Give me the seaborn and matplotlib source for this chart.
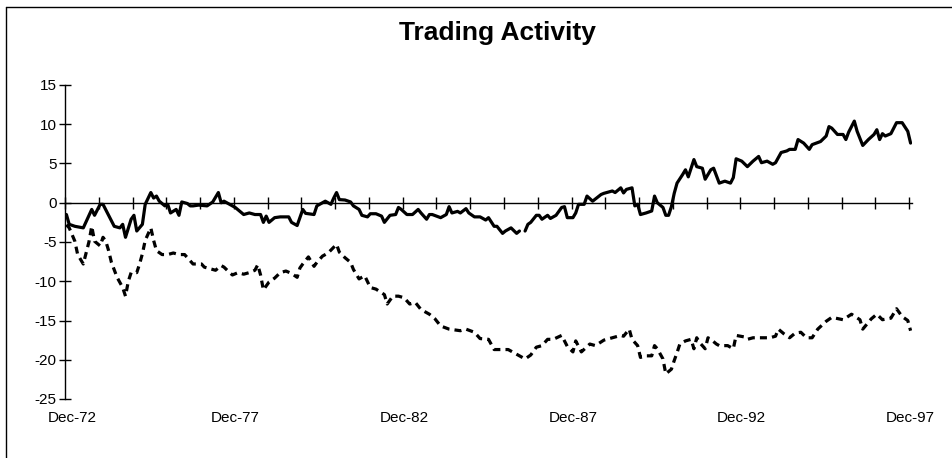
import numpy as np
import pandas as pd
import matplotlib
matplotlib.use("Agg")
import matplotlib.pyplot as plt
from matplotlib.lines import Line2D
import seaborn as sns

# month index: 0 = Dec-72 ... 300 = Dec-97 (values read at the turning points)
solid_month = [0, 1, 3, 6, 9, 10, 12, 13, 15, 17, 19, 20, 21, 23, 24, 25, 27, 28, 30, 31,
               32, 33, 35, 36, 37, 39, 40, 41, 43, 44, 45, 47, 50, 52, 54, 55, 56, 58, 60, 63,
               65, 67, 69, 70, 71, 72, 74, 76, 79, 80, 82, 84, 85, 88, 89, 92, 94, 95, 96, 97,
               99, 101, 102, 104, 105, 107, 108, 110, 112, 113, 115, 117, 118, 119, 121, 123, 125, 126, 128, 129,
               130, 133, 135, 136, 137, 139, 140, 142, 143, 145, 147, 149, 150, 152, 153, 155, 156, 158, 160, 161,
               163, 164, 165, 167, 168, 169, 171, 172, 174, 176, 177, 178, 180, 181, 182, 184, 185, 187, 190, 191,
               194, 195, 197, 198, 199, 201, 202, 203, 204, 206, 208, 209, 210, 212, 213, 214, 215, 216, 217, 219,
               220, 221, 223, 224, 226, 227, 229, 230, 232, 234, 236, 237, 238, 240, 242, 244, 246, 247, 249, 251,
               252, 254, 256, 257, 259, 260, 262, 264, 265, 268, 270, 271, 272, 274, 276, 277, 278, 280, 281, 283,
               285, 287, 288, 289, 290, 291, 293, 295, 297, 299, 300]
solid_value = [-1.5, -2.75, -3.0, -3.2, -0.85, -1.6, -0.2, -0.2, -1.6, -3.0, -3.2, -2.75, -4.4, -2.1, -1.6, -3.6, -2.75, -0.2, 1.3, 0.6,
               0.85, 0.2, -0.4, -0.2, -1.3, -0.85, -1.6, 0.1, -0.1, -0.4, -0.4, -0.3, -0.4, 0.1, 1.3, 0.0, 0.2, -0.2, -0.6, -1.5,
               -1.3, -1.5, -1.5, -2.5, -1.7, -2.5, -1.9, -1.8, -1.8, -2.5, -2.9, -0.85, -1.35, -1.5, -0.4, 0.2, -0.2, 0.6, 1.3, 0.4,
               0.35, 0.1, -0.4, -0.85, -1.6, -1.8, -1.4, -1.4, -1.7, -2.5, -1.6, -1.5, -0.6, -0.85, -1.5, -1.5, -0.85, -1.3, -2.1, -1.5,
               -1.5, -1.9, -1.5, -0.5, -1.3, -1.1, -1.3, -0.75, -1.3, -1.8, -1.8, -2.2, -1.9, -3.0, -3.0, -3.9, -3.6, -3.2, -3.9, -3.6,
               -3.6, -2.75, -2.5, -1.6, -1.6, -2.1, -1.6, -2.0, -1.6, -0.6, -0.5, -1.9, -1.9, -1.3, -0.2, -0.2, 0.85, 0.2, 1.05, 1.2,
               1.5, 1.3, 1.9, 1.25, 1.7, 1.9, -0.4, -0.2, -1.5, -1.3, -1.05, 0.85, 0.0, -0.6, -1.6, -1.6, -0.5, 1.2, 2.5, 3.6,
               4.2, 3.3, 5.5, 4.6, 4.4, 3.0, 4.2, 4.4, 2.5, 2.75, 2.5, 3.2, 5.6, 5.3, 4.6, 5.3, 5.9, 5.1, 5.3, 4.9,
               5.1, 6.4, 6.6, 6.8, 6.8, 8.05, 7.6, 6.8, 7.4, 7.8, 8.5, 9.7, 9.5, 8.7, 8.7, 8.05, 9.0, 10.4, 9.1, 7.3,
               8.05, 8.7, 9.3, 8.05, 8.8, 8.5, 8.8, 10.2, 10.2, 9.1, 7.6]
gap_month = 162  # no value for this month in the solid series

dashed_month = [0, 1, 3, 4, 6, 7, 8, 9, 10, 12, 13, 14, 15, 16, 18, 20, 21, 22, 23, 25,
                26, 27, 28, 30, 31, 32, 34, 36, 38, 40, 42, 43, 45, 48, 49, 53, 55, 56, 58, 59,
                61, 63, 65, 67, 68, 69, 70, 72, 74, 76, 78, 80, 82, 83, 84, 86, 88, 89, 91, 93,
                96, 97, 99, 101, 102, 104, 106, 108, 110, 113, 114, 116, 118, 120, 122, 124, 126, 129, 131, 133,
                136, 140, 142, 145, 147, 150, 152, 157, 159, 163, 165, 167, 169, 171, 173, 176, 178, 180, 181, 183,
                186, 188, 191, 194, 197, 198, 200, 201, 203, 204, 206, 208, 209, 210, 212, 213, 215, 216, 217, 218,
                220, 222, 223, 224, 225, 227, 228, 229, 231, 232, 235, 237, 238, 241, 242, 244, 248, 250, 252, 253,
                255, 257, 259, 261, 263, 265, 267, 270, 272, 276, 279, 282, 283, 286, 288, 290, 293, 295, 297, 299,
                300]
dashed_value = [-2.8, -3.2, -4.9, -6.6, -7.8, -6.4, -5.0, -3.0, -4.9, -5.5, -4.4, -4.9, -6.1, -7.6, -9.5, -10.8, -11.9, -10.0, -8.9, -8.9,
                -7.8, -6.5, -4.8, -3.2, -4.8, -6.1, -6.6, -6.6, -6.4, -6.6, -6.6, -7.0, -7.8, -7.8, -8.2, -8.6, -8.0, -8.2, -8.9, -9.2,
                -8.9, -9.1, -8.9, -8.6, -7.9, -9.2, -11.1, -10.1, -9.6, -8.9, -8.7, -9.0, -9.5, -8.3, -7.8, -6.9, -8.1, -7.6, -6.8, -6.4,
                -5.3, -6.3, -7.0, -7.6, -8.5, -9.7, -9.3, -10.8, -11.0, -11.7, -12.9, -11.9, -11.9, -12.1, -12.9, -12.7, -13.6, -14.2, -14.8, -15.7,
                -16.1, -16.3, -16.1, -16.5, -17.3, -17.4, -18.7, -18.7, -19.1, -19.9, -19.4, -18.4, -18.2, -17.4, -17.4, -16.9, -18.3, -19.0, -17.6, -19.0,
                -18.0, -18.2, -17.5, -17.2, -16.9, -17.0, -16.1, -17.4, -18.2, -19.7, -19.5, -19.5, -18.2, -18.6, -19.9, -21.8, -21.2, -20.1, -19.1, -18.0,
                -17.6, -17.4, -18.6, -17.2, -17.8, -18.6, -17.2, -17.4, -18.0, -18.2, -18.2, -18.6, -16.9, -17.1, -17.4, -17.2, -17.2, -17.2, -17.0, -16.1,
                -16.7, -17.2, -16.6, -16.5, -17.2, -17.2, -16.1, -15.1, -14.6, -14.9, -14.2, -14.9, -16.1, -14.8, -14.2, -14.9, -14.7, -13.5, -14.5, -15.0,
                -16.3]

label_month = [2, 60, 120, 180, 240, 300]
label_text = ['Dec-72', 'Dec-77', 'Dec-82', 'Dec-87', 'Dec-92', 'Dec-97']
y_ticks = [-25, -20, -15, -10, -5, 0, 5, 10, 15]

solid = pd.DataFrame({'month': solid_month, 'value': solid_value})
solid['part'] = (solid['month'] > gap_month).astype(int)
dashed = pd.DataFrame({'month': dashed_month, 'value': dashed_value})

sns.set_theme(style="white")
plt.rcParams['font.family'] = ['Liberation Sans', 'DejaVu Sans']
plt.rcParams['text.color'] = 'black'

fig = plt.figure(figsize=(9.53, 4.58), dpi=100)
ax = fig.add_axes([65 / 953, 1 - 399 / 458, 847 / 953, 314 / 458])

sns.lineplot(data=solid, x='month', y='value', units='part', estimator=None,
             color='black', linewidth=2.3, ax=ax)
sns.lineplot(data=dashed, x='month', y='value', estimator=None,
             color='black', linewidth=2.3, linestyle=(0, (2.2, 1.6)), ax=ax)

ax.set_xlim(-0.5, 300.5)
ax.set_ylim(-25, 15)
ax.set_xlabel('')
ax.set_ylabel('')
ax.spines['top'].set_visible(False)
ax.spines['right'].set_visible(False)
ax.spines['bottom'].set_position(('data', 0))
for s in ['left', 'bottom']:
    ax.spines[s].set_color('black')
    ax.spines[s].set_linewidth(1)

ax.set_xticks(np.arange(-0.5, 301, 12))
ax.tick_params(axis='x', direction='inout', length=9, width=1, color='black', labelbottom=False)
ax.set_yticks(y_ticks)
ax.set_yticklabels([str(v) for v in y_ticks])
ax.tick_params(axis='y', direction='inout', length=8, width=1, color='black',
               labelcolor='black', labelsize=11, pad=2)
ax.tick_params(left=True, bottom=True)

sec = ax.secondary_xaxis('bottom')
sec.set_xticks(label_month, label_text)
sec.spines['bottom'].set_visible(False)
sec.tick_params(length=0, pad=9, labelsize=11, labelcolor='black')

fig.text(0.522, 1 - 33 / 458, 'Trading Activity', ha='center', va='center',
         fontsize=19, fontweight='bold', color='black')

# chart area border (cut off at right and bottom)
fig.add_artist(Line2D([6 / 953, 6 / 953], [0, 1 - 7 / 458], color='black', lw=1))
fig.add_artist(Line2D([6 / 953, 1], [1 - 7 / 458, 1 - 7 / 458], color='black', lw=1))

fig.savefig('out.png', dpi=100)
